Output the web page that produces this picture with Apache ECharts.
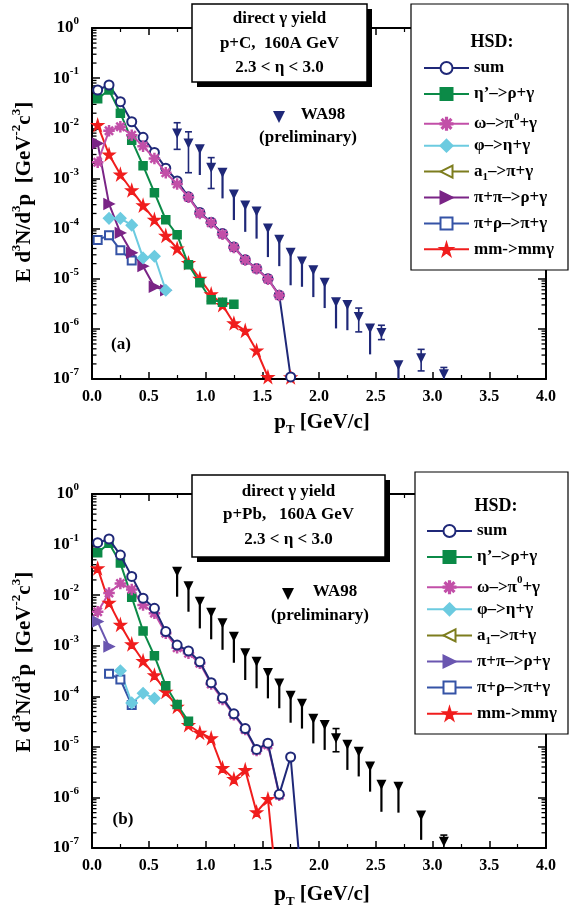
<!DOCTYPE html>
<html><head><meta charset="utf-8">
<script src="https://cdn.jsdelivr.net/npm/echarts@6/dist/echarts.min.js"></script>
<style>html,body{margin:0;padding:0;background:#fff}#c{width:571px;height:920px}</style>
</head><body><div id="c"></div><script>
// ---------- DATA: panel (a) p+C ----------
const a_sum_pt = [0.05,0.15,0.25,0.35,0.45,0.55,0.65,0.75,0.85,0.95,1.05,1.15,1.25,1.35,1.45,1.55,1.65,1.75];
const a_sum    = [0.058,0.073,0.034,0.0135,0.0066,0.0033,0.0016,8.9e-4,4.3e-4,2.1e-4,1.34e-4,8.0e-5,4.3e-5,2.4e-5,1.6e-5,1.0e-5,4.7e-6,1.1e-7];
const a_omega_pt = [0.05,0.15,0.25,0.35,0.45,0.55,0.65,0.75,0.85,0.95,1.05,1.15,1.25,1.35,1.45,1.55,1.65];
const a_omega    = [2.1e-3,8.9e-3,1.07e-2,7.3e-3,4.4e-3,2.5e-3,1.3e-3,7.7e-4,4.2e-4,2.0e-4,1.3e-4,7.7e-5,4.2e-5,2.35e-5,1.58e-5,9.8e-6,4.6e-6];
const a_eta_pt = [0.05,0.15,0.25,0.35,0.45,0.55,0.65,0.75,0.85,0.95,1.05,1.15,1.25];
const a_eta    = [0.039,0.058,0.020,5.8e-3,1.8e-3,5.2e-4,1.5e-4,7.5e-5,1.9e-5,8.3e-6,3.8e-6,3.4e-6,3.1e-6];
const a_mm_pt = [0.05,0.15,0.25,0.35,0.45,0.55,0.65,0.75,0.85,0.95,1.05,1.15,1.25,1.35,1.45,1.55,1.65,1.75];
const a_mm    = [0.0116,3.0e-3,1.2e-3,5.8e-4,2.9e-4,1.5e-4,7.2e-5,4.0e-5,2.05e-5,1.0e-5,4.9e-6,3.0e-6,1.29e-6,9.2e-7,3.7e-7,1.1e-7,4e-8,1.08e-7];
const a_pipi_pt = [0.05,0.15,0.25,0.35,0.45,0.55,0.65];
const a_pipi    = [5.0e-3,3.1e-4,8.2e-5,3.3e-5,1.78e-5,6.9e-6,5.9e-6];
const a_phi_pt = [0.15,0.25,0.35,0.45,0.55,0.65];
const a_phi    = [1.6e-4,1.6e-4,1.17e-4,2.6e-5,2.8e-5,5.9e-6];
const a_pirho_pt = [0.05,0.15,0.25,0.35];
const a_pirho    = [5.9e-5,7.4e-5,3.7e-5,2.3e-5];
const a_wa_pt  = [0.75,0.85,0.95,1.05,1.15,1.25,1.35,1.45,1.55,1.65,1.75,1.85,1.95,2.05,2.15,2.25,2.35,2.45,2.55,2.70,2.90,3.10];
const a_wa_val = [7.9e-3,5.0e-3,3.8e-3,1.63e-3,1.3e-3,4.8e-4,2.9e-4,2.2e-4,1.0e-4,6.0e-5,3.3e-5,2.2e-5,1.48e-5,8.3e-6,3.4e-6,3.0e-6,1.73e-6,1.02e-6,8.3e-7,1.88e-7,2.6e-7,1.24e-7];
const a_wa_lo  = [3.8e-3,1.3e-3,1.17e-3,6.3e-4,4.0e-4,1.48e-4,8.6e-5,6.3e-5,2.7e-5,1.78e-5,7.4e-6,6.9e-6,4.3e-6,2.6e-6,1.02e-6,9.4e-7,8.7e-7,3.1e-7,6.1e-7,5e-8,1.45e-7,8e-8];
const a_wa_hi  = [1.29e-2,8.5e-3,0,2.6e-3,0,0,0,0,0,0,0,0,0,0,0,0,2.6e-6,0,1.18e-6,0,3.9e-7,1.7e-7];

// ---------- DATA: panel (b) p+Pb ----------
const b_sum_pt = [0.05,0.15,0.25,0.35,0.45,0.55,0.65,0.75,0.85,0.95,1.05,1.15,1.25,1.35,1.45,1.55,1.65,1.75,1.85];
const b_sum    = [0.109,0.129,0.062,0.0235,8.7e-3,5.5e-3,1.9e-3,1.03e-3,7.9e-4,4.8e-4,1.86e-4,9.3e-5,4.5e-5,2.3e-5,8.9e-6,1.18e-5,1.15e-6,6.3e-6,1.5e-8];
const b_omega_pt = [0.05,0.15,0.25,0.35,0.45,0.55,0.65,0.75,0.85,0.95,1.05,1.15,1.25,1.35,1.45,1.55,1.65];
const b_omega    = [4.7e-3,0.011,0.017,0.013,6.4e-3,4.4e-3,1.77e-3,9.1e-4,7.1e-4,4.5e-4,1.75e-4,8.6e-5,4.3e-5,2.2e-5,8.5e-6,1.1e-5,1.1e-6];
const b_eta_pt = [0.05,0.15,0.25,0.35,0.45,0.55,0.65,0.75,0.85];
const b_eta    = [0.069,0.106,0.043,9.1e-3,1.96e-3,6.3e-4,1.62e-4,6.9e-5,3.2e-5];
const b_mm_pt = [0.05,0.15,0.25,0.35,0.45,0.55,0.65,0.75,0.85,0.95,1.05,1.15,1.25,1.35,1.45,1.55,1.65];
const b_mm    = [0.034,7.1e-3,2.6e-3,1.07e-3,5.0e-4,2.6e-4,1.23e-4,6.2e-5,2.7e-5,1.9e-5,1.48e-5,3.8e-6,2.3e-6,3.5e-6,5.1e-7,9.3e-7,5e-9];
const b_pipi_pt = [0.05,0.15];
const b_pipi    = [3.0e-3,9.6e-4];
const b_phi_pt = [0.25,0.35,0.45,0.55];
const b_phi    = [3.2e-4,7.4e-5,1.15e-4,9.1e-5];
const b_pirho_pt = [0.15,0.25,0.35];
const b_pirho    = [2.8e-4,2.15e-4,6.7e-5];
const b_wa_pt  = [0.75,0.85,0.95,1.05,1.15,1.25,1.35,1.45,1.55,1.65,1.75,1.85,1.95,2.05,2.15,2.25,2.35,2.45,2.55,2.70,2.90,3.10];
const b_wa_val = [0.029,0.015,7.4e-3,4.5e-3,2.77e-3,1.5e-3,7.1e-4,4.8e-4,2.9e-4,1.8e-4,1.02e-4,7.1e-5,3.6e-5,2.7e-5,1.48e-5,1.1e-5,8.0e-6,4.1e-6,1.78e-6,1.63e-6,4.4e-7,1.33e-7];
const b_wa_lo  = [9.3e-3,4.7e-3,2.2e-3,1.34e-3,8.3e-4,4.6e-4,2.1e-4,1.44e-4,9.1e-5,5.8e-5,3.0e-5,2.3e-5,1.17e-5,8.7e-6,8.0e-6,3.5e-6,2.6e-6,1.3e-6,5.2e-7,5.0e-7,1.45e-7,8e-8];
const b_wa_hi  = [0,0,0,0,0,0,0,0,0,0,0,0,0,0,2.3e-5,0,0,0,0,0,0,1.8e-7];

// ---------- labels ----------
const N_SUM = 'sum', N_ETA = 'η’–>ρ+γ', N_OMEGA = 'ω–>π⁰+γ', N_PHI = 'φ–>η+γ',
      N_A1 = 'a₁–>π+γ', N_PIPI = 'π+π–>ρ+γ', N_PIRHO = 'π+ρ–>π+γ', N_MM = 'mm->mmγ';
const legendNames = [N_SUM, N_ETA, N_OMEGA, N_PHI, N_A1, N_PIPI, N_PIRHO, N_MM];
const titleA = ['direct γ yield', 'p+C,  160A GeV', '2.3 < η < 3.0'];
const titleB = ['direct γ yield', 'p+Pb,   160A GeV', '2.3 < η < 3.0'];

// ---------- styling ----------
const FONT = '"Liberation Serif","Times New Roman",serif';
const C = {sum:'#1f2878', eta:'#0b8a47', omega:'#c24fa8', phi:'#6ccbe0', a1:'#7d7d1e',
           pipiA:'#7a2486', pipiB:'#6a56b0', pirho:'#3553a6', mm:'#f01d1d', waA:'#1f2878', waB:'#000'};
const STAR = 'path://M50,0 L61,35 L98,35 L68,57 L79,91 L50,70 L21,91 L32,57 L2,35 L39,35 Z';
const ASTER = 'path://M9,0h2v7.6l5.4-5.4 1.4 1.4-5.4 5.4h7.6v2h-7.6l5.4 5.4-1.4 1.4-5.4-5.4v7.6h-2v-7.6l-5.4 5.4-1.4-1.4 5.4-5.4h-7.6v-2h7.6l-5.4-5.4 1.4-1.4 5.4 5.4z';

const grids = [{left:92, top:28, width:454, height:351}, {left:92, top:494, width:454, height:354}];

function xAx(gi, pos, lab) {
  return {type:'value', gridIndex:gi, position:pos, min:0, max:4, interval:0.5,
    axisLine:{show:true, onZero:false, lineStyle:{color:'#000', width:2}},
    axisTick:{show:true, inside:true, length:7, lineStyle:{color:'#000', width:1.5}},
    minorTick:{show:true, splitNumber:2, length:4, lineStyle:{color:'#000', width:1.2}},
    splitLine:{show:false},
    axisLabel:{show:lab, margin:10, color:'#000', fontFamily:FONT, fontWeight:'bold', fontSize:16,
      formatter: v => v.toFixed(1)}};
}
function yAx(gi, pos, lab) {
  return {type:'log', logBase:10, gridIndex:gi, position:pos, min:1e-7, max:1, splitNumber:7,
    axisLine:{show:true, onZero:false, lineStyle:{color:'#000', width:2}},
    axisTick:{show:true, inside:true, length:8, lineStyle:{color:'#000', width:1.5}},
    splitLine:{show:false},
    axisLabel:{show:lab, margin:13, color:'#000',
      formatter: v => '{b|10}{s|' + Math.round(Math.log10(v)) + '}',
      rich:{b:{fontFamily:FONT, fontWeight:'bold', fontSize:17, color:'#000'},
            s:{fontFamily:FONT, fontWeight:'bold', fontSize:11, color:'#000', padding:[0,0,13,0]}}}};
}

function zip(p, v) { return p.map((x, i) => [x, v[i]]); }
function ls(name, gi, pts, vals, color, symbol, extra) {
  return Object.assign({type:'line', name, xAxisIndex:gi*2, yAxisIndex:gi*2, data:zip(pts, vals),
    symbol, symbolSize:9, clip:true, animation:false,
    lineStyle:{width:2, color}, itemStyle:{color, borderColor:color, borderWidth:1.5}}, extra || {});
}

// minor log ticks (2..9 per decade)
const minorY = [];
for (let e = -7; e < 0; e++) for (let m = 2; m <= 9; m++) minorY.push(m * Math.pow(10, e));
function minorSeries(gi) {
  return {type:'custom', xAxisIndex:gi*2, yAxisIndex:gi*2, silent:true, animation:false, clip:false,
    data: minorY.map(v => [0, v]), encode:{x:0, y:1}, z:2,
    renderItem: (params, api) => {
      const v = api.value(1);
      const l = api.coord([0, v]), r = api.coord([4, v]);
      return {type:'group', children:[
        {type:'line', shape:{x1:l[0], y1:l[1], x2:l[0]+4.5, y2:l[1]}, style:{stroke:'#000', lineWidth:1.3}},
        {type:'line', shape:{x1:r[0]-4.5, y1:r[1], x2:r[0], y2:r[1]}, style:{stroke:'#000', lineWidth:1.3}}]};
    }};
}
function waSeries(gi, pt, val, lo, hi, color) {
  return {type:'custom', name:'WA98', xAxisIndex:gi*2, yAxisIndex:gi*2, silent:true, animation:false, clip:true, z:5,
    data: pt.map((x, i) => [x, val[i], lo[i], hi[i]]), encode:{x:0, y:1},
    renderItem: (params, api) => {
      const x = api.value(0), v = api.value(1), l = api.value(2), h = api.value(3);
      const p = api.coord([x, v]), pl = api.coord([x, l]);
      const ch = [];
      const err = h > 0;
      ch.push({type:'line', shape:{x1:p[0], y1:p[1], x2:p[0], y2:pl[1]}, style:{stroke:color, lineWidth: err ? 1.6 : 2.2}});
      if (err) {
        const ph = api.coord([x, h]);
        ch.push({type:'line', shape:{x1:p[0], y1:p[1], x2:p[0], y2:ph[1]}, style:{stroke:color, lineWidth:1.6}});
        ch.push({type:'line', shape:{x1:p[0]-3.5, y1:ph[1], x2:p[0]+3.5, y2:ph[1]}, style:{stroke:color, lineWidth:1.6}});
        ch.push({type:'line', shape:{x1:p[0]-3.5, y1:pl[1], x2:p[0]+3.5, y2:pl[1]}, style:{stroke:color, lineWidth:1.6}});
      }
      ch.push({type:'polygon', shape:{points:[[p[0]-5, p[1]-5], [p[0]+5, p[1]-5], [p[0], p[1]+5]]}, style:{fill:color}});
      return {type:'group', children:ch};
    }};
}

function panelSeries(gi, d) {
  const wa = gi === 0 ? C.waA : C.waB;
  const pipi = gi === 0 ? C.pipiA : C.pipiB;
  return [
    minorSeries(gi),
    ls(N_MM, gi, d.mm_pt, d.mm, C.mm, STAR, {symbolSize:11, z:3}),
    ls(N_PIRHO, gi, d.pirho_pt, d.pirho, C.pirho, 'emptyRect', {symbolSize:8, z:3}),
    ls(N_PIPI, gi, d.pipi_pt, d.pipi, pipi, 'triangle', {symbolRotate:-90, symbolSize:10, z:3}),
    ls(N_A1, gi, [], [], C.a1, 'emptyTriangle', {symbolRotate:90, symbolSize:10, z:3}),
    ls(N_PHI, gi, d.phi_pt, d.phi, C.phi, 'diamond', {symbolSize:11, z:3}),
    ls(N_ETA, gi, d.eta_pt, d.eta, C.eta, 'rect', {symbolSize:8, z:3}),
    ls(N_OMEGA, gi, d.omega_pt, d.omega, C.omega, ASTER, {symbolSize:10, z: gi === 0 ? 4 : 3,
        lineStyle:{width:2, color:C.omega}}),
    ls(N_SUM, gi, d.sum_pt, d.sum, C.sum, 'emptyCircle', {symbolSize:9, z: gi === 0 ? 3 : 4}),
    waSeries(gi, d.wa_pt, d.wa_val, d.wa_lo, d.wa_hi, wa)
  ];
}

const A = {sum_pt:a_sum_pt, sum:a_sum, omega_pt:a_omega_pt, omega:a_omega, eta_pt:a_eta_pt, eta:a_eta,
  mm_pt:a_mm_pt, mm:a_mm, pipi_pt:a_pipi_pt, pipi:a_pipi, phi_pt:a_phi_pt, phi:a_phi, pirho_pt:a_pirho_pt, pirho:a_pirho,
  wa_pt:a_wa_pt, wa_val:a_wa_val, wa_lo:a_wa_lo, wa_hi:a_wa_hi};
const B = {sum_pt:b_sum_pt, sum:b_sum, omega_pt:b_omega_pt, omega:b_omega, eta_pt:b_eta_pt, eta:b_eta,
  mm_pt:b_mm_pt, mm:b_mm, pipi_pt:b_pipi_pt, pipi:b_pipi, phi_pt:b_phi_pt, phi:b_phi, pirho_pt:b_pirho_pt, pirho:b_pirho,
  wa_pt:b_wa_pt, wa_val:b_wa_val, wa_lo:b_wa_lo, wa_hi:b_wa_hi};

// ---------- legends (one per entry, for exact vertical placement) ----------
const legRich = {
  t:{fontFamily:FONT, fontWeight:'bold', fontSize:17, color:'#000'},
  s:{fontFamily:FONT, fontWeight:'bold', fontSize:11, color:'#000', padding:[0,0,14,0]},
  u:{fontFamily:FONT, fontWeight:'bold', fontSize:11, color:'#000', padding:[12,0,0,0]}
};
function legFmt(n) {
  if (n.indexOf('⁰') >= 0) { const p = n.split('⁰'); return '{t|' + p[0] + '}{s|0}{t|' + p[1] + '}'; }
  if (n.indexOf('₁') >= 0) { const p = n.split('₁'); return '{t|' + p[0] + '}{u|1}{t|' + p[1] + '}'; }
  return '{t|' + n + '}';
}
function legends(left, y0, step, pipiColor) {
  return legendNames.map((n, i) => {
    const item = n === N_PIPI ? {name:n, itemStyle:{color:pipiColor, borderColor:pipiColor}, lineStyle:{color:pipiColor}} : {name:n};
    return {data:[item], left:left, top: y0 + i*step - 7.5, orient:'vertical', itemWidth:45, itemHeight:15,
      selectedMode:false, padding:0, formatter:legFmt, z:6,
      textStyle:{fontFamily:FONT, fontWeight:'bold', fontSize:17, color:'#000', rich:legRich}};
  });
}

// ---------- decorations ----------
function txt(x, y, s, size, extra) {
  return Object.assign({type:'text', x, y, z:20, silent:true,
    style:{text:s, font:'bold ' + size + 'px ' + FONT, fill:'#000', textAlign:'center', textVerticalAlign:'middle'}}, extra || {});
}
function titleBox(x, y, w, h, lines, cx, ys) {
  return [
    {type:'rect', z:10, silent:true, shape:{x:x+5, y:y+5, width:w, height:h}, style:{fill:'#000'}},
    {type:'rect', z:11, silent:true, shape:{x, y, width:w, height:h}, style:{fill:'#fff', stroke:'#000', lineWidth:1.5}},
    ...lines.map((s, i) => txt(cx, ys[i], s, 17))
  ];
}
function tri(x, y, color) {
  return {type:'polygon', z:20, silent:true, shape:{points:[[x-6, y-6], [x+6, y-6], [x, y+6]]}, style:{fill:color}};
}
const yTitleRich = {
  t:{fontFamily:FONT, fontWeight:'bold', fontSize:21, color:'#000'},
  s:{fontFamily:FONT, fontWeight:'bold', fontSize:13, color:'#000', padding:[0,0,16,0]}
};
const yTitle = '{t|E d}{s|3}{t|N/d}{s|3}{t|p  [GeV}{s|-2}{t|c}{s|3}{t|]}';
const xTitleRich = {
  t:{fontFamily:FONT, fontWeight:'bold', fontSize:21, color:'#000'},
  u:{fontFamily:FONT, fontWeight:'bold', fontSize:13, color:'#000', padding:[14,0,0,0]}
};
const xTitle = '{t|p}{u|T}{t| [GeV/c]}';
function richTxt(x, y, s, rich, rot) {
  return {type:'text', x, y, rotation:rot || 0, z:20, silent:true,
    style:{text:s, rich, textAlign:'center', textVerticalAlign:'middle'}};
}

const graphics = [
  ...titleBox(192, 4, 175, 78, titleA, 279.5, [19, 43.5, 68]),
  ...titleBox(192, 475, 193, 82, titleB, 288.5, [492, 515, 540]),
  {type:'rect', z:4, silent:true, shape:{x:411, y:4, width:157, height:266}, style:{fill:'#fff', stroke:'#000', lineWidth:1.2}},
  {type:'rect', z:4, silent:true, shape:{x:415, y:472, width:153, height:262}, style:{fill:'#fff', stroke:'#000', lineWidth:1.2}},
  txt(492, 42, 'HSD:', 18), txt(496, 506, 'HSD:', 18),
  tri(279, 117, C.waA), txt(323, 115, 'WA98', 17), txt(308, 138, '(preliminary)', 17),
  tri(288, 594, C.waB), txt(335, 592, 'WA98', 17), txt(320, 616, '(preliminary)', 17),
  txt(121, 345, '(a)', 17), txt(123, 820, '(b)', 17),
  richTxt(25, 192, yTitle, yTitleRich, Math.PI/2),
  richTxt(25, 662, yTitle, yTitleRich, Math.PI/2),
  richTxt(322, 423, xTitle, xTitleRich),
  richTxt(322, 895, xTitle, xTitleRich)
];

const chart = echarts.init(document.getElementById('c'), null, {renderer:'canvas'});
chart.setOption({
  animation:false,
  backgroundColor:'#fff',
  grid: grids,
  xAxis: [xAx(0,'bottom',true), xAx(0,'top',false), xAx(1,'bottom',true), xAx(1,'top',false)],
  yAxis: [yAx(0,'left',true), yAx(0,'right',false), yAx(1,'left',true), yAx(1,'right',false)],
  legend: [...legends(423, 67, 25.9, C.pipiA), ...legends(426, 530, 26.1, C.pipiB)],
  series: [...panelSeries(0, A), ...panelSeries(1, B)],
  graphic: {elements: graphics}
});
</script></body></html>
